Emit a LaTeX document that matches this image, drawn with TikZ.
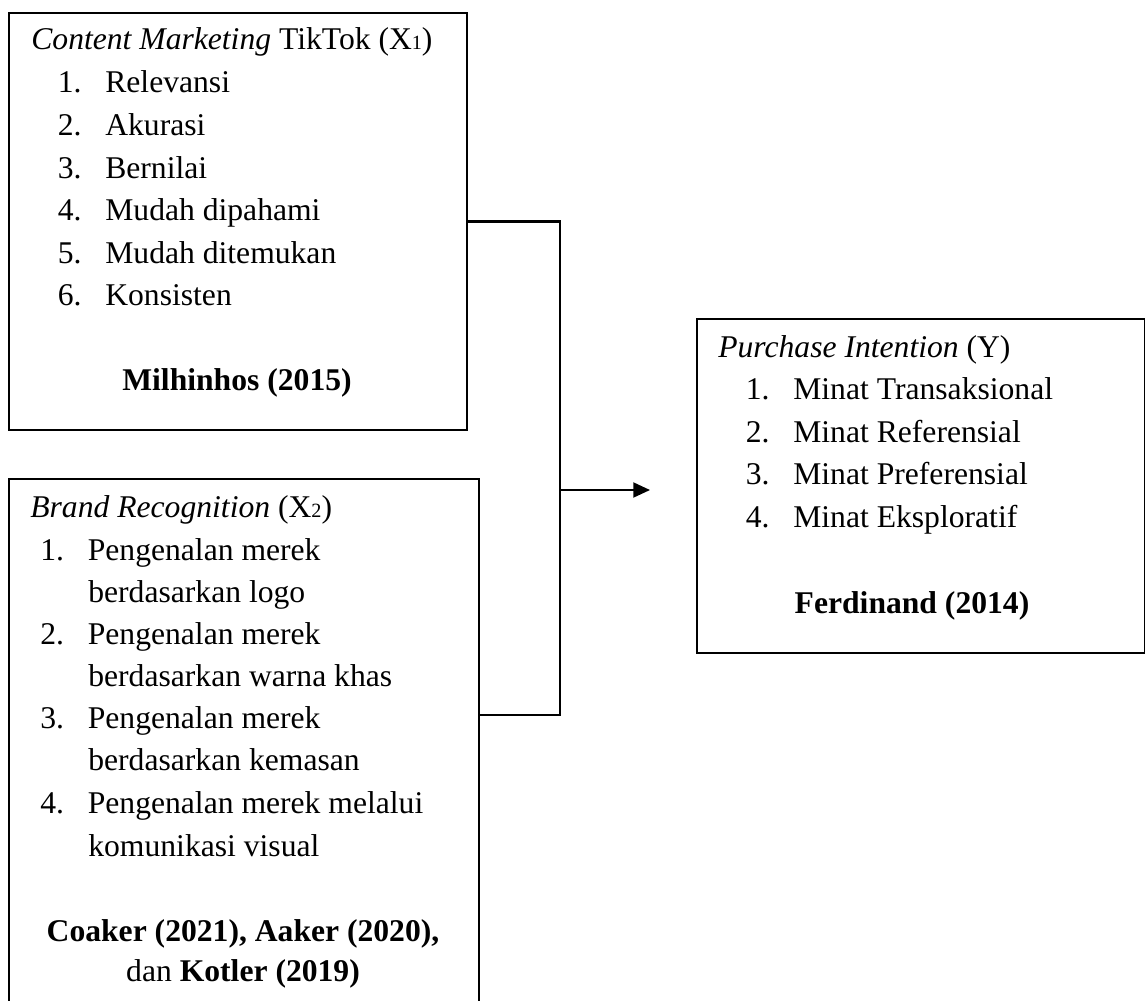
\documentclass[tikz,border=0pt]{standalone}
\usepackage{fontspec}
\setmainfont{Liberation Serif}
\usepackage{tikz}
\usetikzlibrary{positioning,arrows.meta}

\newcommand{\itemline}[2]{\makebox[0.95cm][l]{#1.}#2}
\newcommand{\lowidx}[1]{{\fontsize{11.5}{12}\selectfont #1}}

\begin{document}
\begin{tikzpicture}[
    x=0.02cm, y=-0.02cm,
    every node/.style={inner sep=0pt, font=\fontsize{18}{24}\selectfont},
    varbox/.style={rectangle, draw=black, line width=1.2pt, anchor=north west},
    line/.style={anchor=base west},
    source/.style={anchor=base, font=\fontsize{18}{24}\selectfont\bfseries},
    link/.style={line width=1.2pt},
    arrow/.style={-{Triangle[length=9.5pt, width=8.5pt]}, line width=1.2pt}
]
\clip (0,0) rectangle (1145,1000);

% Content marketing box
\node[varbox, minimum width=9.16cm, minimum height=8.34cm] (content) at (8,12) {};
\node[line] (contenttitle) at (31,50) {\textit{Content Marketing} TikTok (X\lowidx{1})};
\node[line] (content1) at (57.5,93) {\itemline{1}{Relevansi}};
\node[line] (content2) at (57.5,135.5) {\itemline{2}{Akurasi}};
\node[line] (content3) at (57.5,178) {\itemline{3}{Bernilai}};
\node[line] (content4) at (57.5,220.5) {\itemline{4}{Mudah dipahami}};
\node[line] (content5) at (57.5,263) {\itemline{5}{Mudah ditemukan}};
\node[line] (content6) at (57.5,305.5) {\itemline{6}{Konsisten}};
\node[source] (contentsrc) at (237,390) {Milhinhos (2015)};

% Brand recognition box
\node[varbox, minimum width=9.4cm, minimum height=10.6cm] (brand) at (8,478) {};
\node[line] (brandtitle) at (30,517) {\textit{Brand Recognition} (X\lowidx{2})};
\node[line] (brand1) at (40,560) {\itemline{1}{Pengenalan merek}};
\node[line] (brand1b) at (88,602) {berdasarkan logo};
\node[line] (brand2) at (40,644) {\itemline{2}{Pengenalan merek}};
\node[line] (brand2b) at (88,686) {berdasarkan warna khas};
\node[line] (brand3) at (40,728) {\itemline{3}{Pengenalan merek}};
\node[line] (brand3b) at (88,770) {berdasarkan kemasan};
\node[line] (brand4) at (40,813) {\itemline{4}{Pengenalan merek melalui}};
\node[line] (brand4b) at (88,856) {komunikasi visual};
\node[source] (brandsrc) at (243,941) {Coaker (2021), Aaker (2020),};
\node[source] (brandsrcb) at (243,981) {\mdseries dan \bfseries Kotler (2019)};

% Purchase intention box
\node[varbox, minimum width=8.96cm, minimum height=6.68cm] (purchase) at (696,318) {};
\node[line] (purchasetitle) at (718,357) {\textit{Purchase Intention} (Y)};
\node[line] (purchase1) at (745.5,399) {\itemline{1}{Minat Transaksional}};
\node[line] (purchase2) at (745.5,442) {\itemline{2}{Minat Referensial}};
\node[line] (purchase3) at (745.5,484) {\itemline{3}{Minat Preferensial}};
\node[line] (purchase4) at (745.5,527) {\itemline{4}{Minat Eksploratif}};
\node[source] (purchasesrc) at (912,613) {Ferdinand (2014)};

% Connectors
\coordinate (join) at (560,490);
\coordinate (brandport) at (478,715);
\coordinate (tip) at (650,490);
\draw[link] (content.east) -| (join) |- (brandport);
\draw[arrow] (join) -- (tip);

\end{tikzpicture}
\end{document}
